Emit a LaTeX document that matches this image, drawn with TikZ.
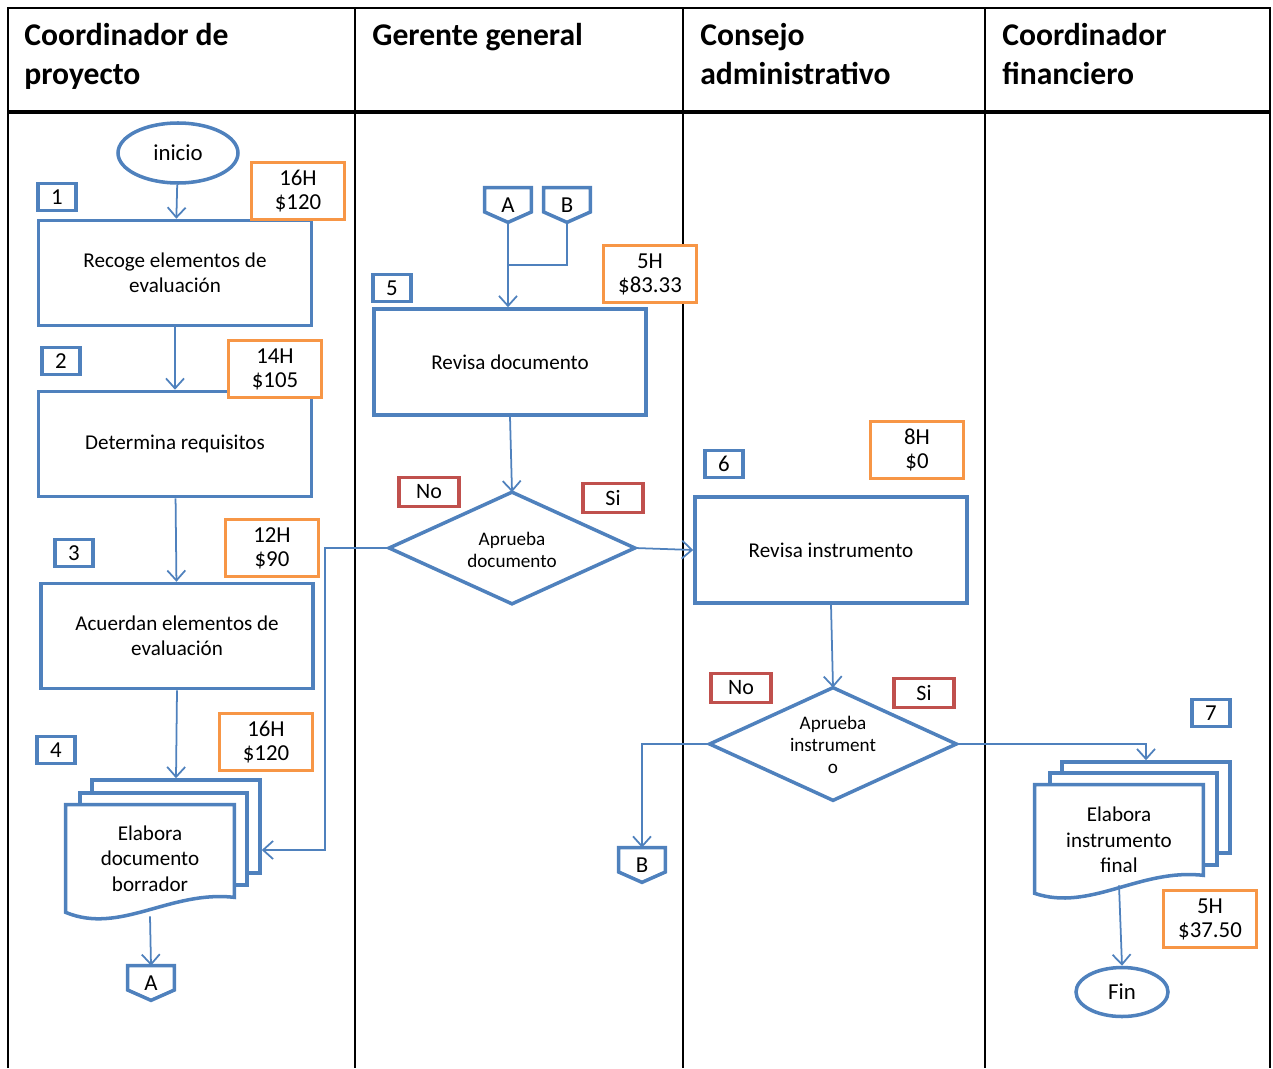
\documentclass[tikz,border=0pt]{standalone}
\usepackage{fontspec}
\setmainfont{Carlito}
\usetikzlibrary{arrows.meta,shapes.geometric,calc}
\definecolor{flowblue}{HTML}{4F81BD}
\definecolor{costorange}{HTML}{F79646}
\definecolor{answerred}{HTML}{C0504D}
\begin{document}
\begin{tikzpicture}[x=0.02cm,y=-0.02cm,
  sz/.style 2 args={minimum width=#1*0.02cm,minimum height=#2*0.02cm},
  txt/.style={font=\fontsize{12}{14.4}\selectfont,align=center,inner sep=0pt},
  task/.style={txt,draw=flowblue,line width=2pt,fill=white},
  page/.style={draw=flowblue,line width=2pt,fill=white,inner sep=0pt},
  docframe/.style={draw=flowblue,line width=2pt,fill=white},
  decision/.style={txt,font=\fontsize{10.9}{12.6}\selectfont},
  terminal/.style={txt,ellipse,draw=flowblue,line width=2pt,fill=white,
    font=\fontsize{13}{15}\selectfont},
  numbox/.style={txt,draw=flowblue,line width=2pt,fill=white,sz={38}{27},
    font=\fontsize{13}{15}\selectfont},
  costbox/.style={txt,draw=costorange,line width=2pt,fill=white,sz={93}{57},
    font=\fontsize{13}{13.6}\selectfont},
  answer/.style={txt,draw=answerred,line width=2pt,fill=white,sz={60}{29},
    font=\fontsize{12.5}{15}\selectfont},
  offpage/.style={txt,sz={46}{34},font=\fontsize{13}{15}\selectfont},
  flow/.style={draw=flowblue,line width=1pt,
    -{Straight Barb[length=0.2cm,width=0.36cm]}},
  lane/.style={black,line width=1.1pt},
  lanehead/.style={anchor=north west,align=left,inner sep=0pt,
    font=\fontsize{18}{22}\selectfont\bfseries}]
\useasboundingbox (0,0) rectangle (1273,1068);

% swimlane frame
\draw[lane] (8,1068) -- (8,8) -- (1270,8) -- (1270,1068);
\foreach \xl in {355,683,985} \draw[lane] (\xl,8) -- (\xl,1068);
\draw[black,line width=2pt] (8,112) -- (1270,112);

\node[lanehead] (h1) at (24,23) {Coordinador de\\proyecto};
\node[lanehead] (h2) at (372,23) {Gerente general};
\node[lanehead] (h3) at (700,23) {Consejo\\administrativo};
\node[lanehead] (h4) at (1002,23) {Coordinador\\financiero};

% ---- Coordinador de proyecto
\node[terminal,sz={120}{60}] (ini) at (178,153) {inicio};
\node[numbox] (n1) at (57,197) {1};
\node[task,sz={273}{105}] (t1) at (175,273) {Recoge elementos de\\evaluación};
\node[numbox] (n2) at (61,361) {2};
\node[task,sz={273}{105}] (t2) at (175,444) {Determina requisitos};
\node[numbox] (n3) at (74,553) {3};
\node[task,sz={272}{105}] (t3) at (177,636) {Acuerdan elementos de\\evaluación};
\node[numbox] (n4) at (56,750) {4};

% stacked document 4
\node[page,sz={168}{93}] (d4c) at (176,826.5) {};
\node[page,sz={167}{92}] (d4b) at (163.5,839) {};
\node[txt,sz={168}{107}] (d4) at (150,858.5) {};
\draw[docframe] (d4.north west) -- (d4.north east) -- ($(d4.south east)+(0,-15)$)
  .. controls (170,890) and (120,935) .. (d4.south west) -- cycle;
\node[txt] at (d4) {Elabora\\documento\\borrador};

\node[offpage] (outA) at (151,983) {A};
\draw[page,fill=none] (outA.north west) -- (outA.north east) -- ($(outA.east)+(0,7)$)
  -- (outA.south) -- ($(outA.west)+(0,7)$) -- cycle;

% ---- Gerente general
\node[offpage] (inA) at (508,205) {A};
\node[offpage] (inB) at (567,205) {B};
\foreach \c in {inA,inB}
  \draw[page,fill=none] (\c.north west) -- (\c.north east) -- ($(\c.east)+(0,7)$)
    -- (\c.south) -- ($(\c.west)+(0,7)$) -- cycle;
\node[numbox] (n5) at (392,288) {5};
\node[task,sz={272}{106}] (t5) at (510,362) {Revisa documento};
\node[decision,sz={245}{111}] (q1) at (512,548) {};
\draw[docframe] (q1.north) -- (q1.east) -- (q1.south) -- (q1.west) -- cycle;
\node[decision] at (512,550) {Aprueba\\documento};
\node[answer] (no1) at (429,492) {No};
\node[answer] (si1) at (613,498) {Si};

% ---- Consejo administrativo
\node[numbox] (n6) at (724,464) {6};
\node[task,sz={272}{106}] (t6) at (831,550) {Revisa instrumento};
\node[decision,sz={246}{112}] (q2) at (833,744) {};
\draw[docframe] (q2.north) -- (q2.east) -- (q2.south) -- (q2.west) -- cycle;
\node[decision] at (833,745) {Aprueba\\instrument\\o};
\node[answer] (no2) at (741,688) {No};
\node[answer] (si2) at (924,693) {Si};
\node[offpage] (outB) at (642,865) {B};
\draw[page,fill=none] (outB.north west) -- (outB.north east) -- ($(outB.east)+(0,7)$)
  -- (outB.south) -- ($(outB.west)+(0,7)$) -- cycle;

% ---- Coordinador financiero
\node[numbox] (n7) at (1211,713) {7};
\node[page,sz={168}{91}] (d7c) at (1146,807.5) {};
\node[page,sz={167}{92}] (d7b) at (1133.5,819) {};
\node[txt,sz={168}{108}] (d7) at (1119,839) {};
\draw[docframe] (d7.north west) -- (d7.north east) -- ($(d7.south east)+(0,-18)$)
  .. controls (1140,868) and (1090,912) .. (d7.south west) -- cycle;
\node[txt] at (1119,840) {Elabora\\instrumento\\final};
\node[terminal,sz={92}{49}] (fin) at (1122,992) {Fin};

% ---- connectors
\draw[flow] (ini) -- (t1);
\draw[flow] (t1) -- (t2);
\draw[flow] (t2) -- (t3);
\draw[flow] (t3.south) -- (d4c.north);
\draw[flow] ($(d4.south)+(0,4)$) -- (outA.north);
\coordinate (jab) at (inA.south |- 0,265);
\draw[draw=flowblue,line width=1pt] (inB.south) |- (jab);
\draw[flow] (inA.south) -- (inA.south |- t5.north);
\draw[flow] (t5.south) -- (q1.north);
\coordinate (back) at (325,850);
\draw[flow] (q1.west) -| (back) -- (back -| d4c.east);
\draw[flow] (q1.east) -- (t6.west);
\draw[flow] (t6.south) -- (q2.north);
\draw[flow] (q2.west) -| (outB.north);
\draw[flow] (q2.east) -| (d7c.north);
\draw[flow] ($(d7.south)+(0,-8)$) -- (fin.north);

% ---- time and cost tags, laid over the shapes
\node[costbox] (c1) at (298,191) {16H\\\$120};
\node[costbox] (c2) at (275,369) {14H\\\$105};
\node[costbox] (c3) at (272,548) {12H\\\$90};
\node[costbox] (c4) at (266,742) {16H\\\$120};
\node[costbox] (c5) at (650,274) {5H\\\$83.33};
\node[costbox] (c6) at (917,450) {8H\\\$0};
\node[costbox] (c7) at (1210,919) {5H\\\$37.50};
\end{tikzpicture}
\end{document}
